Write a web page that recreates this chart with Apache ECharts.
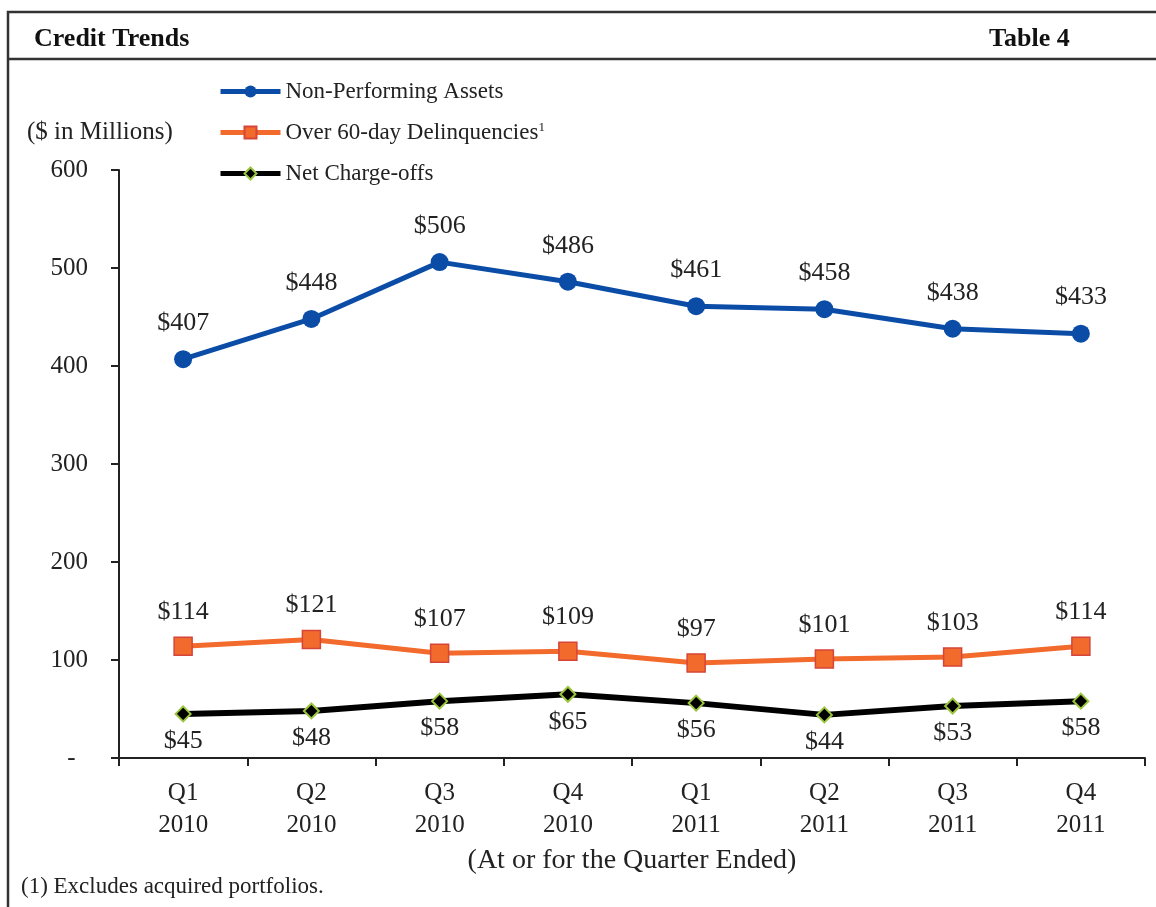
<!DOCTYPE html>
<html>
<head>
<meta charset="utf-8">
<script src="https://cdn.jsdelivr.net/npm/echarts@6/dist/echarts.min.js"></script>
<style>
  html, body { margin: 0; padding: 0; background: #fff; }
  #chart { width: 1156px; height: 907px; }
</style>
</head>
<body>
<div id="chart"></div>
<script>
// data
var quarters = ['Q1\n2010', 'Q2\n2010', 'Q3\n2010', 'Q4\n2010', 'Q1\n2011', 'Q2\n2011', 'Q3\n2011', 'Q4\n2011'];
var nonPerforming = [407, 448, 506, 486, 461, 458, 438, 433];
var delinquencies = [114, 121, 107, 109, 97, 101, 103, 114];
var chargeOffs = [45, 48, 58, 65, 56, 44, 53, 58];
var yTicks = [0, 100, 200, 300, 400, 500, 600];

var serif = '"Liberation Serif", "DejaVu Serif", serif';
var myChart = echarts.init(document.getElementById('chart'));

function money(p) { return '$' + p.value; }

var option = {
    backgroundColor: '#fff',
    animation: false,
    title: [
        { text: 'Credit Trends', left: 29, top: 21, textStyle: { fontFamily: serif, fontSize: 26, fontWeight: 'bold', color: '#111' } },
        { text: 'Table 4', left: 984, top: 21, textStyle: { fontFamily: serif, fontSize: 26, fontWeight: 'bold', color: '#111' } }
    ],
    graphic: [
        { type: 'rect', shape: { x: 8, y: 12, width: 1170, height: 920 }, style: { fill: 'none', stroke: '#333', lineWidth: 2.5 } },
        { type: 'line', shape: { x1: 8, y1: 59, x2: 1156, y2: 59 }, style: { stroke: '#333', lineWidth: 2.5 } },
        { type: 'text', left: 27, top: 120, style: { text: '($ in Millions)', font: '25px ' + serif, fill: '#222' } },
        { type: 'text', left: 21, top: 875, style: { text: '(1) Excludes acquired portfolios.', font: '23px ' + serif, fill: '#222' } }
    ],
    legend: {
        orient: 'vertical',
        left: 213,
        top: 75,
        itemWidth: 60,
        itemHeight: 15,
        itemGap: 18,
        lineStyle: { width: 5 },
        textStyle: {
            fontFamily: serif, fontSize: 23, color: '#222', lineHeight: 23, padding: [0, 0, 0, 0],
            rich: { sup: { fontFamily: serif, fontSize: 13, color: '#222', verticalAlign: 'top', lineHeight: 23, padding: [0, 0, 10, 0] } }
        },
        formatter: function (name) {
            return name === 'Over 60-day Delinquencies' ? name + '{sup|1}' : name;
        },
        data: ['Non-Performing Assets', 'Over 60-day Delinquencies', 'Net Charge-offs']
    },
    grid: { left: 119, right: 11, top: 170, bottom: 149 },
    xAxis: {
        type: 'category',
        data: quarters,
        boundaryGap: true,
        name: '(At or for the Quarter Ended)',
        nameLocation: 'middle',
        nameGap: 89,
        nameTextStyle: { fontFamily: serif, fontSize: 28, color: '#222' },
        axisLine: { lineStyle: { color: '#222', width: 2 } },
        axisTick: { show: true, length: 8, lineStyle: { color: '#222', width: 2 } },
        axisLabel: { fontFamily: serif, fontSize: 25, color: '#222', lineHeight: 32, margin: 19 }
    },
    yAxis: {
        type: 'value',
        min: yTicks[0],
        max: yTicks[yTicks.length - 1],
        interval: 100,
        splitLine: { show: false },
        axisLine: { show: true, lineStyle: { color: '#222', width: 2 } },
        axisTick: { show: true, length: 8, lineStyle: { color: '#222', width: 2 } },
        axisLabel: {
            fontFamily: serif, fontSize: 25, color: '#222', margin: 31,
            formatter: function (v) { return v === 0 ? '-  ' : String(v); }
        }
    },
    series: [
        {
            name: 'Non-Performing Assets',
            type: 'line',
            data: nonPerforming,
            symbol: 'circle',
            symbolSize: 18,
            itemStyle: { color: '#0B4DA6' },
            lineStyle: { color: '#0B4DA6', width: 5 },
            label: { show: true, position: 'top', distance: 14, formatter: money, fontFamily: serif, fontSize: 26, color: '#222' }
        },
        {
            name: 'Over 60-day Delinquencies',
            type: 'line',
            data: delinquencies,
            symbol: 'rect',
            symbolSize: 18,
            itemStyle: { color: '#F26A2C', borderColor: '#D5453A', borderWidth: 1.5 },
            lineStyle: { color: '#F26A2C', width: 5 },
            label: { show: true, position: 'top', distance: 11, formatter: money, fontFamily: serif, fontSize: 26, color: '#222' }
        },
        {
            name: 'Net Charge-offs',
            type: 'line',
            data: chargeOffs,
            symbol: 'diamond',
            symbolSize: 15,
            itemStyle: { color: '#000', borderColor: '#9BC53D', borderWidth: 2 },
            lineStyle: { color: '#000', width: 6 },
            label: { show: true, position: 'bottom', distance: 6, formatter: money, fontFamily: serif, fontSize: 26, color: '#222' }
        }
    ]
};

myChart.setOption(option);
</script>
</body>
</html>
